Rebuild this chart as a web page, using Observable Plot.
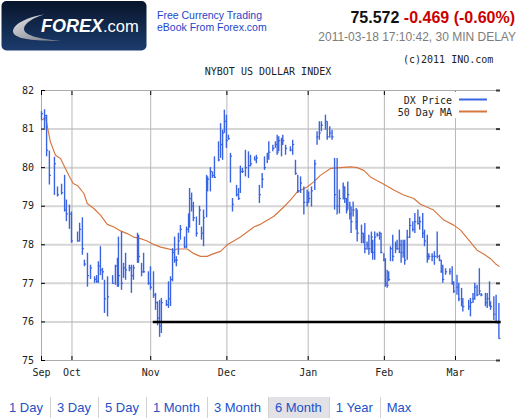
<!DOCTYPE html>
<html><head><meta charset="utf-8">
<script src="https://cdn.jsdelivr.net/npm/d3@7"></script>
<script src="https://cdn.jsdelivr.net/npm/@observablehq/plot@0.6"></script>
<style>
body{margin:0;background:#fff;}
#page{position:relative;width:516px;height:420px;overflow:hidden;background:#fff;font-family:"Liberation Sans",Arial,sans-serif;}
#chart{position:absolute;left:0;top:52px;}
#overlay{position:absolute;left:0;top:0;}
#nav{position:absolute;left:3px;top:397px;height:21px;display:flex;font-size:13px;line-height:21px;color:#2450c8;}
#nav span{padding:0 7px 0 6px;border-right:1px solid #d2d2d2;white-space:nowrap;}
#nav span.sel{background:#e1e1e6;}
#nav span:last-child{border-right:none;}
</style></head><body>
<div id="page">
<div id="chart"></div>
<svg id="overlay" width="516" height="420" xmlns="http://www.w3.org/2000/svg">
  <defs>
    <linearGradient id="lg" x1="0" y1="0" x2="0" y2="1">
      <stop offset="0" stop-color="#08152a"/><stop offset="1" stop-color="#1c3c6e"/>
    </linearGradient>
    <linearGradient id="sw" x1="0" y1="0" x2="1" y2="1">
      <stop offset="0" stop-color="#e8e8e8"/><stop offset="1" stop-color="#6e7480"/>
    </linearGradient>
  </defs>
  <rect x="1.5" y="1" width="145" height="49.5" rx="5" fill="url(#lg)"/>
  <path d="M44,14.5 C26,17 9,26 14,34 C19,40 40,41 61,41 C42,39 24,36 24,29 C24,23 34,17.5 44,14.5 Z" fill="url(#sw)"/>
  <text x="41" y="32" font-family="Liberation Sans, Arial, sans-serif" font-size="18" fill="#fff"><tspan font-weight="bold" font-style="italic">FOREX</tspan><tspan font-size="16.5">.com</tspan></text>
  <text x="157" y="18.7" font-family="Liberation Sans, Arial, sans-serif" font-size="10.5" fill="#1d45c8">Free Currency Trading</text>
  <text x="157" y="31" font-family="Liberation Sans, Arial, sans-serif" font-size="10.5" fill="#1d45c8">eBook From Forex.com</text>
  <text id="price" x="515" y="23.3" text-anchor="end" font-family="Liberation Sans, Arial, sans-serif" font-size="16" font-weight="bold"></text>
  <text id="stamp" x="516" y="40.7" text-anchor="end" font-family="Liberation Sans, Arial, sans-serif" font-size="12" fill="#7c7c7c"></text>
  <text id="copy" x="403" y="63.3" font-family="DejaVu Sans Mono, monospace" font-size="10" fill="#222"></text>
  <text id="title" x="268" y="75" text-anchor="middle" font-family="DejaVu Sans Mono, monospace" font-size="10" fill="#222"></text>
  <g id="legend"></g>
</svg>
<div id="nav"></div>
</div>
<script>
// ---- data (days counted from 2010-09-19) ----
const tradeDay = [0.0,1.2,2.0,3.1,5.1,6.3,7.9,9.1,9.8,11.0,11.8,14.2,15.0,16.1,16.9,18.1,19.3,20.9,21.7,22.4,23.2,24.0,24.8,26.0,28.0,29.1,29.9,30.3,31.5,32.3,33.1,34.6,35.4,36.2,37.8,38.2,39.4,40.2,42.1,42.9,44.1,44.9,45.7,46.5,47.2,49.2,50.0,50.8,51.6,52.4,53.1,53.9,54.7,56.3,57.1,57.9,58.3,59.1,59.8,61.0,62.2,63.0,63.8,65.0,65.4,66.5,67.3,68.1,69.7,70.5,71.3,72.0,72.8,73.6,74.4,75.2,76.8,77.6,78.3,79.1,80.3,81.5,82.3,83.9,84.6,85.8,86.9,87.8,88.9,89.5,91.1,92.1,92.8,93.4,94.5,95.0,96.1,98.0,98.9,100.0,100.9,102.0,103.3,104.6,105.2,106.3,107.6,108.5,109.4,110.2,111.8,112.5,113.5,114.4,115.4,116.4,117.3,118.8,119.4,120.1,120.6,121.4,121.9,122.7,123.9,124.3,126.0,126.7,127.3,128.2,128.9,129.9,130.4,131.2,132.2,133.1,133.7,134.8,135.4,136.1,136.7,137.4,138.3,139.4,140.0,140.9,141.6,142.4,143.0,144.0,145.0,146.2,147.0,148.2,148.9,150.1,150.8,151.9,152.5,153.8,154.7,155.8,156.7,157.4,158.0,159.1,160.8,161.7,162.3,163.6,164.3,165.4,165.9,168.2,168.9,169.9,170.6,171.5,172.4,173.1,174.8,175.5,176.4,176.8,178.1,179.0,179.6,180.1];
const high = [81.45,81.5,81.36,80.43,80.27,79.5,79.57,79.8,79.16,79.03,78.85,78.33,78.56,78.7,77.6,77.78,77.47,77.17,77.2,77.56,77.95,77.39,77.08,77.17,77.2,77.47,77.65,78.2,78.33,77.52,77.78,77.47,77.47,77.47,78.3,78.25,77.52,77.78,77.3,77.43,77.3,76.74,76.52,76.56,76.61,76.56,77.04,77.17,77.9,78.2,77.69,78.3,78.5,78.2,78.46,78.8,79.46,79.34,79.1,78.72,79.0,78.46,78.9,79.8,79.76,80.0,79.89,80.28,80.67,81.14,80.97,81.49,81.36,80.84,80.37,79.2,79.54,79.46,80.04,79.98,80.45,80.41,80.32,80.28,80.32,79.54,79.85,80.28,80.37,80.67,80.58,80.67,80.84,80.8,80.76,80.84,80.58,80.54,80.71,80.19,79.8,79.76,79.5,79.42,79.37,79.5,80.19,80.93,81.19,81.19,81.36,81.19,81.06,80.97,80.24,80.24,79.42,79.6,79.5,79.2,79.63,79.1,78.98,79.11,78.94,78.9,78.51,78.3,78.55,78.07,78.25,78.33,78.12,78.33,78.3,78.33,78.3,77.77,77.64,77.34,77.3,77.95,78.25,78.07,78.12,78.38,78.12,78.12,78.12,78.38,78.68,78.6,78.81,78.9,78.72,78.81,78.38,78.25,77.77,77.77,77.82,78.33,77.73,77.6,77.47,77.38,77.38,77.43,77.04,77.21,77.0,76.87,76.61,76.56,76.61,76.74,77.0,76.95,77.38,76.74,76.74,76.74,77.04,76.52,76.65,76.69,76.0,76.48];
const low = [81.23,81.0,80.28,79.55,79.28,79.24,79.29,78.85,78.6,78.4,78.04,78.07,78.07,77.73,77.43,76.9,77.1,77.0,77.0,77.0,77.2,77.08,76.22,76.13,77.0,76.95,76.9,76.9,76.82,77.13,77.08,77.3,76.74,77.08,77.52,77.52,77.17,77.26,76.95,76.82,76.61,76.3,75.9,75.6,75.7,76.4,76.35,76.4,77.04,77.52,77.43,77.73,78.12,77.9,77.9,78.3,78.43,78.85,78.6,78.2,78.5,78.12,77.95,78.7,79.37,79.37,79.72,79.72,80.15,80.24,80.19,80.89,80.5,80.71,79.6,78.85,79.24,79.15,79.33,79.85,79.76,79.72,80.02,80.19,80.1,79.07,79.46,79.93,80.11,80.19,80.41,80.5,80.32,80.41,80.28,80.58,80.32,80.41,80.32,79.8,79.33,79.33,78.77,78.98,79.07,78.98,79.41,80.58,80.71,80.93,80.97,80.71,80.76,80.71,78.9,78.77,78.8,79.16,79.07,78.8,78.9,78.64,78.29,78.72,78.38,78.07,78.03,78.03,77.77,77.86,77.73,77.77,77.6,77.6,78.2,78.12,77.77,77.56,76.9,76.87,77.04,77.56,77.56,77.77,77.86,77.77,77.52,77.65,77.47,77.6,78.16,78.33,78.29,78.51,78.38,78.16,77.95,77.52,77.6,77.56,77.47,77.64,77.56,77.26,77.0,77.21,77.21,76.95,76.74,76.69,76.52,76.39,76.26,76.3,76.13,76.48,76.56,76.65,76.69,76.65,76.39,76.35,76.39,76.3,76.04,75.95,75.95,75.57];
const close = [81.4,81.35,80.45,79.8,80.1,79.3,79.35,78.9,78.8,78.8,78.1,78.1,78.4,77.9,77.5,77.2,77.4,77.1,77.05,77.45,77.35,77.3,76.6,76.65,77.0,77.45,76.95,77.2,77.0,77.4,77.35,77.4,77.2,77.4,77.6,77.7,77.3,77.3,77.0,76.9,76.7,76.5,76.1,75.9,76.5,76.45,76.6,77.1,77.8,77.6,77.6,78.1,78.4,77.95,78.4,78.7,79.2,79.0,78.7,78.3,78.9,78.3,78.7,79.6,79.7,79.9,79.8,79.75,80.2,80.6,80.9,81.2,80.7,80.75,80.3,79.05,79.3,79.2,79.9,79.9,80.0,80.05,80.1,80.2,80.25,79.3,79.7,80.0,80.3,80.4,80.5,80.6,80.4,80.7,80.6,80.7,80.5,80.45,80.6,79.85,79.4,79.6,79.1,79.1,79.2,79.4,80.1,80.8,80.9,81.1,81.2,80.8,80.9,80.8,79.3,79.0,79.2,79.5,79.2,78.9,79.3,78.8,78.6,78.9,78.6,78.3,78.3,78.2,77.9,78.0,77.9,78.2,77.8,78.2,78.25,78.3,77.8,77.6,77.0,76.95,77.1,77.9,77.7,78.0,77.9,78.0,77.8,78.0,77.6,78.2,78.5,78.4,78.6,78.55,78.6,78.3,78.1,77.7,77.7,77.7,77.7,77.7,77.6,77.3,77.1,77.3,77.3,77.0,76.8,76.9,76.6,76.5,76.4,76.4,76.5,76.6,76.9,76.7,76.8,76.7,76.5,76.6,76.5,76.4,76.2,76.0,75.97,75.57];
const maDay = [0,1.6,3.5,5.5,7.5,9.4,11.4,12.5,14.3,16.7,18.0,20.6,23.2,25.9,28.5,31.1,33.7,36.3,39.0,41.6,44.2,46.9,49.5,52.1,53.4,57.4,60.0,62.6,65.2,67.8,70.5,73.1,75.7,78.3,81.0,83.6,86.2,91.5,95.4,98.0,100.7,104.6,107.2,109.8,113.8,117.7,121.7,124.3,126.9,129.5,132.2,134.8,138.7,142.6,146.6,149.2,154.4,158.4,162.3,165.0,168.9,171.5,174.1,176.8,178.7,180.2];
const maValue = [81.23,81.3,80.67,80.32,80.24,79.98,79.72,79.59,79.53,79.33,79.07,78.94,78.77,78.53,78.46,78.36,78.29,78.2,78.16,78.1,78.01,77.94,77.9,77.86,77.89,77.89,77.77,77.7,77.7,77.77,77.83,78.0,78.1,78.2,78.33,78.46,78.53,78.74,78.98,79.16,79.37,79.5,79.63,79.8,79.98,80.0,80.02,80.0,79.93,79.76,79.66,79.57,79.42,79.29,79.2,79.05,78.9,78.64,78.51,78.38,78.07,77.86,77.76,77.64,77.51,77.44];
const monthDates = ["2010-09-19","2010-10-01","2010-11-01","2010-12-01","2011-01-02","2011-02-01","2011-03-01"];
const monthLabels = ["Sep","Oct","Nov","Dec","Jan","Feb","Mar"];
const yTicks = [75,76,77,78,79,80,81,82];
const gridLevels = [76,77,78,79,80,81];
const supportLevel = 76;
const supportFrom = "2010-11-02";
const supportTo = "2011-03-19";
const lastPrice = "75.572", change = "-0.469 (-0.60%)";
const stamp = "2011-03-18 17:10:42, 30 MIN DELAY";
const chartTitle = "NYBOT US DOLLAR INDEX";
const copyright = "(c)2011 INO.com";
const legendNames = ["DX Price", "50 Day MA"];
const navItems = ["1 Day","3 Day","5 Day","1 Month","3 Month","6 Month","1 Year","Max"];
const navSelected = "6 Month";

// ---- build ----
const BLUE = "#3a64e0", ORANGE = "#d6763f";
const base = Date.UTC(2010, 8, 19);
const toDate = d => new Date(base + d * 864e5);
const xDomain = [new Date("2010-09-19T00:00:00Z"), new Date("2011-03-18T08:00:00Z")];
const bars = tradeDay.map((d, i) => ({date: toDate(d), tickEnd: toDate(d + 0.8), high: high[i], low: low[i], close: close[i]}));
const ma = maDay.map((d, i) => ({date: toDate(d), value: maValue[i]}));
const months = monthDates.map(s => new Date(s + "T00:00:00Z"));
const labelOf = new Map(months.map((m, i) => [+m, monthLabels[i]]));

const chart = Plot.plot({
  width: 516, height: 340,
  marginTop: 38, marginBottom: 32, marginLeft: 41, marginRight: 17,
  style: {fontFamily: "'DejaVu Sans Mono', monospace", fontSize: "10px", color: "#222", background: "transparent"},
  x: {type: "utc", domain: xDomain, label: null},
  y: {domain: [75, 82], label: null},
  marks: [
    Plot.gridY(gridLevels, {stroke: "#d6d6d6", strokeOpacity: 1, strokeWidth: 2}),
    Plot.gridX(months.slice(1), {stroke: "#b8b8b8", strokeOpacity: 1, strokeWidth: 1}),
    Plot.ruleY([75, 82], {stroke: "#ababab", strokeWidth: 1}),
    Plot.ruleX([xDomain[0]], {stroke: "#ababab", strokeWidth: 1}),
    Plot.axisY(yTicks, {anchor: "left", tickSize: -4, tickPadding: 11.5, stroke: "#000", label: null, tickFormat: d => String(d)}),
    Plot.axisY(yTicks, {anchor: "right", tickSize: -4, stroke: "#3a3a3a", strokeWidth: 2, label: null, tickFormat: () => ""}),
    Plot.axisX(months, {anchor: "bottom", tickSize: -4, tickPadding: 12, stroke: "#000", label: null, tickFormat: d => labelOf.get(+d)}),
    Plot.axisX(months, {anchor: "top", tickSize: -4, stroke: "#000", label: null, tickFormat: () => ""}),
    Plot.line(ma, {x: "date", y: "value", stroke: ORANGE, strokeWidth: 1.15}),
    Plot.ruleX(bars, {x: "date", y1: "low", y2: "high", stroke: BLUE, strokeWidth: 1.4}),
    Plot.ruleY(bars, {y: "close", x1: "date", x2: "tickEnd", stroke: BLUE, strokeWidth: 1.2}),
    Plot.ruleY([supportLevel], {x1: new Date(supportFrom + "T00:00:00Z"), x2: new Date(supportTo + "T00:00:00Z"), stroke: "#000", strokeWidth: 2.5})
  ]
});
document.getElementById("chart").append(chart);

// header texts
const ns = "http://www.w3.org/2000/svg";
const price = document.getElementById("price");
const t1 = document.createElementNS(ns, "tspan"); t1.setAttribute("fill", "#111"); t1.textContent = lastPrice + " ";
const t2 = document.createElementNS(ns, "tspan"); t2.setAttribute("fill", "#cc0000"); t2.textContent = change;
price.append(t1, t2);
document.getElementById("stamp").textContent = stamp;
document.getElementById("copy").textContent = copyright;
document.getElementById("title").textContent = chartTitle;

// legend
const lg = document.getElementById("legend");
const box = document.createElementNS(ns, "rect");
Object.entries({x: 393, y: 91.5, width: 103, height: 26.5, fill: "#fff"}).forEach(([k, v]) => box.setAttribute(k, v));
lg.append(box);
[[legendNames[0], BLUE, 104, 99.5], [legendNames[1], ORANGE, 116.3, 111.5]].forEach(([name, col, by, ly]) => {
  const t = document.createElementNS(ns, "text");
  Object.entries({x: 452, y: by, "text-anchor": "end", "font-family": "DejaVu Sans Mono, monospace", "font-size": 10, fill: "#222"}).forEach(([k, v]) => t.setAttribute(k, v));
  t.textContent = name;
  const l = document.createElementNS(ns, "line");
  Object.entries({x1: 459, x2: 487, y1: ly, y2: ly, stroke: col, "stroke-width": 2}).forEach(([k, v]) => l.setAttribute(k, v));
  lg.append(t, l);
});

// nav
const nav = document.getElementById("nav");
navItems.forEach(n => {
  const s = document.createElement("span");
  s.textContent = n;
  if (n === navSelected) s.className = "sel";
  nav.append(s);
});
</script>
</body></html>
